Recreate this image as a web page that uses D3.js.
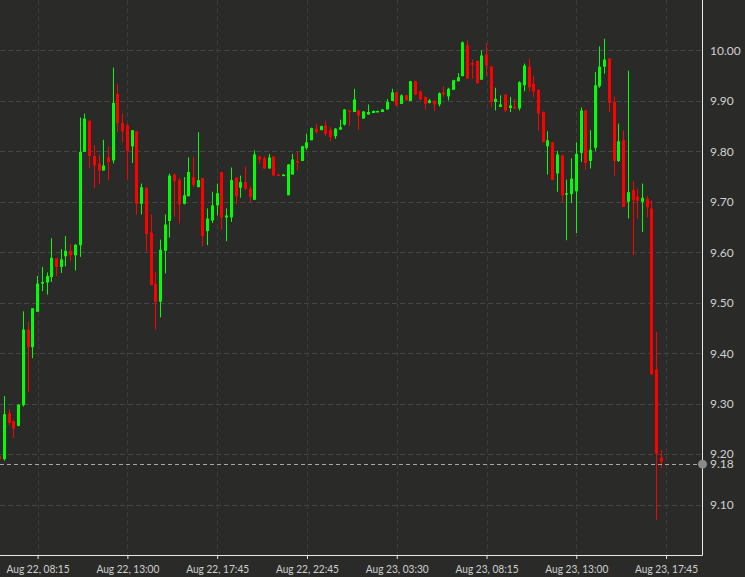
<!DOCTYPE html>
<html>
<head>
<meta charset="utf-8">
<script src="https://cdn.jsdelivr.net/npm/d3@7"></script>
<style>
  html, body { margin: 0; padding: 0; background: #2a2b29; }
  svg { display: block; }
  text { font-family: Lato, "Noto Sans", sans-serif; }
</style>
</head>
<body>
<svg id="chart" width="745" height="577"></svg>
<script>
// ---- data ----
const opens  = [9.196,9.190,9.281,9.265,9.256,9.297,9.447,9.412,9.482,9.538,9.540,9.551,9.588,9.571,9.592,9.603,9.594,9.614,9.799,9.861,
                9.791,9.776,9.762,9.788,9.782,9.914,9.856,9.851,9.810,9.840,9.696,9.728,9.639,9.537,9.502,9.603,9.662,9.754,9.743,9.696,
                9.711,9.749,9.729,9.747,9.642,9.663,9.693,9.759,9.669,9.669,9.748,9.728,9.739,9.726,9.704,9.790,9.786,9.766,9.790,9.754,
                9.752,9.713,9.754,9.781,9.781,9.807,9.822,9.845,9.842,9.851,9.842,9.830,9.843,9.853,9.881,9.878,9.881,9.865,9.873,9.876,
                9.878,9.878,9.883,9.900,9.917,9.894,9.911,9.900,9.939,9.919,9.908,9.896,9.900,9.893,9.917,9.909,9.922,9.939,9.949,10.010,
                9.975,9.979,9.942,9.992,9.968,9.898,9.888,9.912,9.886,9.888,9.885,9.931,9.968,9.934,9.922,9.878,9.810,9.818,9.756,9.792,
                9.715,9.715,9.721,9.797,9.881,9.781,9.807,9.929,9.968,9.984,9.898,9.781,9.822,9.700,9.723,9.710,9.700,9.706,9.687,9.368,
                9.193];
const highs  = [9.198,9.315,9.289,9.267,9.299,9.483,9.463,9.489,9.553,9.571,9.560,9.628,9.588,9.606,9.632,9.617,9.616,9.867,9.875,9.861,
                9.812,9.794,9.823,9.810,9.966,9.933,9.875,9.855,9.842,9.840,9.736,9.728,9.675,9.561,9.625,9.675,9.756,9.756,9.747,9.749,
                9.788,9.789,9.838,9.747,9.687,9.720,9.736,9.759,9.687,9.768,9.748,9.752,9.770,9.731,9.802,9.790,9.790,9.795,9.790,9.755,
                9.755,9.775,9.795,9.799,9.811,9.835,9.847,9.855,9.851,9.861,9.848,9.846,9.863,9.884,9.882,9.924,9.882,9.880,9.893,9.881,
                9.881,9.884,9.904,9.924,9.918,9.913,9.912,9.940,9.940,9.920,9.909,9.904,9.902,9.917,9.929,9.926,9.942,9.955,10.018,10.020,
                9.982,9.980,10.000,10.014,9.969,9.926,9.911,9.914,9.908,9.904,9.939,9.974,9.984,9.949,9.923,9.879,9.840,9.819,9.801,9.793,
                9.744,9.786,9.818,9.887,9.882,9.842,9.957,10.008,10.023,9.985,9.909,9.855,9.842,9.960,9.741,9.726,9.736,9.711,9.703,9.442,
                9.208];
const lows   = [9.188,9.187,9.257,9.232,9.255,9.294,9.323,9.390,9.482,9.523,9.516,9.541,9.553,9.559,9.572,9.583,9.564,9.591,9.799,9.767,
                9.727,9.736,9.762,9.743,9.776,9.838,9.818,9.744,9.777,9.675,9.675,9.601,9.535,9.447,9.471,9.558,9.629,9.671,9.657,9.695,
                9.711,9.729,9.729,9.612,9.614,9.658,9.673,9.645,9.622,9.660,9.695,9.708,9.723,9.700,9.704,9.776,9.766,9.766,9.752,9.751,
                9.751,9.713,9.754,9.762,9.781,9.803,9.822,9.835,9.842,9.830,9.820,9.825,9.843,9.851,9.851,9.878,9.843,9.865,9.873,9.876,
                9.878,9.878,9.883,9.900,9.889,9.894,9.900,9.900,9.911,9.901,9.883,9.895,9.880,9.889,9.908,9.901,9.922,9.939,9.949,9.944,
                9.944,9.935,9.942,9.949,9.887,9.881,9.888,9.878,9.878,9.885,9.881,9.919,9.919,9.908,9.840,9.818,9.754,9.743,9.720,9.700,
                9.624,9.698,9.638,9.779,9.764,9.766,9.801,9.926,9.954,9.878,9.752,9.779,9.690,9.667,9.594,9.667,9.640,9.669,9.358,9.069,
                9.172];
const closes = [9.190,9.279,9.262,9.251,9.298,9.447,9.412,9.489,9.538,9.541,9.553,9.589,9.571,9.586,9.603,9.594,9.615,9.799,9.865,9.791,
                9.772,9.762,9.772,9.779,9.896,9.856,9.840,9.801,9.842,9.696,9.729,9.636,9.535,9.502,9.605,9.655,9.752,9.741,9.695,9.713,
                9.759,9.734,9.743,9.632,9.667,9.693,9.717,9.669,9.673,9.743,9.711,9.739,9.726,9.710,9.794,9.784,9.766,9.788,9.752,9.752,
                9.754,9.774,9.784,9.778,9.810,9.818,9.846,9.838,9.850,9.835,9.828,9.845,9.848,9.883,9.878,9.903,9.871,9.879,9.878,9.880,
                9.880,9.883,9.898,9.917,9.891,9.911,9.901,9.939,9.913,9.903,9.894,9.901,9.893,9.915,9.913,9.924,9.941,9.947,10.016,9.944,
                9.972,9.935,9.990,9.970,9.898,9.904,9.893,9.881,9.891,9.886,9.937,9.970,9.927,9.919,9.875,9.818,9.822,9.743,9.794,9.713,
                9.717,9.746,9.795,9.881,9.777,9.803,9.931,9.968,9.982,9.896,9.781,9.820,9.690,9.719,9.703,9.702,9.708,9.689,9.358,9.201,
                9.185];
const lastPrice = 9.18;
const priceTicks = [9.10,9.20,9.30,9.40,9.50,9.60,9.70,9.80,9.90,10.00];
const timeTickIndex = [8,27,46,65,84,103,122,141];
const timeTickLabels = ["Aug 22, 08:15","Aug 22, 13:00","Aug 22, 17:45","Aug 22, 22:45",
                        "Aug 23, 03:30","Aug 23, 08:15","Aug 23, 13:00","Aug 23, 17:45"];

// ---- layout ----
const W = 745, H = 577;
const plotRight = 702, plotBottom = 555;
const nSlots = 148.6;
const bg = "#2a2b29", up = "#00ff00", down = "#ff0000";
const gridColor = "#454545", axisColor = "#e8e8e8", textColor = "#d0d0d0";

const svg = d3.select("#chart");
svg.append("rect").attr("width", W).attr("height", H).attr("fill", bg);

const x = d3.scaleLinear().domain([0, nSlots]).range([-0.2, plotRight]);
const y = d3.scaleLinear().domain([9.0, 10.1]).range([plotBottom, 0]);

const candles = opens.map((o, i) => ({i, o, h: highs[i], l: lows[i], c: closes[i]}));

// grid
const grid = svg.append("g");
grid.selectAll("line.h").data(priceTicks).join("line")
  .attr("x1", 0).attr("x2", plotRight)
  .attr("y1", d => Math.round(y(d)) + 0.5).attr("y2", d => Math.round(y(d)) + 0.5)
  .attr("stroke", gridColor).attr("stroke-dasharray", "5,3");
grid.selectAll("line.v").data(timeTickIndex).join("line")
  .attr("x1", d => Math.round(x(d)) + 0.5).attr("x2", d => Math.round(x(d)) + 0.5)
  .attr("y1", 0).attr("y2", plotBottom)
  .attr("stroke", "#3b3c3a").attr("stroke-dasharray", "5,3");

// candles
svg.append("clipPath").attr("id", "clip").append("rect")
  .attr("x", 0).attr("y", 0).attr("width", plotRight).attr("height", plotBottom);
const cg = svg.append("g").attr("clip-path", "url(#clip)");
const cs = cg.selectAll("g.c").data(candles).join("g");
cs.append("rect")
  .attr("x", d => Math.floor(x(d.i)))
  .attr("width", 1)
  .attr("y", d => y(d.h))
  .attr("height", d => Math.max(1, y(d.l) - y(d.h)))
  .attr("fill", d => d.c >= d.o ? up : down);
cs.append("rect")
  .attr("x", d => Math.floor(x(d.i)) - 1)
  .attr("width", 3)
  .attr("y", d => y(Math.max(d.o, d.c)))
  .attr("height", d => Math.max(1.5, Math.abs(y(d.o) - y(d.c))))
  .attr("fill", d => d.c >= d.o ? up : down);

// last price line
svg.append("line")
  .attr("x1", 0).attr("x2", plotRight)
  .attr("y1", Math.round(y(lastPrice)) + 0.5).attr("y2", Math.round(y(lastPrice)) + 0.5)
  .attr("stroke", "#a8a8a8").attr("stroke-dasharray", "4,3");

// axes
const xAxis = d3.axisBottom(x).tickValues(timeTickIndex)
  .tickFormat((d, k) => timeTickLabels[k]).tickSize(4).tickSizeOuter(0);
const gx = svg.append("g").attr("transform", `translate(0,${plotBottom})`).call(xAxis);
gx.select(".domain").remove();
gx.selectAll(".tick line").attr("stroke", axisColor);
gx.selectAll(".tick text").attr("fill", textColor).attr("font-size", 12).attr("dy", "0.95em")
  .attr("font-family", "Lato, 'Noto Sans', sans-serif")
  .attr("textLength", 63).attr("lengthAdjust", "spacingAndGlyphs");
svg.append("line").attr("x1", 0).attr("x2", plotRight + 0.5)
  .attr("y1", plotBottom + 0.5).attr("y2", plotBottom + 0.5).attr("stroke", axisColor);
svg.append("line").attr("x1", plotRight + 0.5).attr("x2", plotRight + 0.5)
  .attr("y1", 0).attr("y2", plotBottom + 0.5).attr("stroke", axisColor);

const yAxis = d3.axisRight(y).tickValues(priceTicks).tickFormat(d3.format(".2f")).tickSize(0);
const gy = svg.append("g").attr("transform", `translate(${plotRight},0)`).call(yAxis);
gy.select(".domain").remove();
gy.selectAll(".tick text").attr("fill", textColor).attr("font-size", 12).attr("x", 8)
  .attr("font-family", "Lato, 'Noto Sans', sans-serif");

// last price marker
svg.append("text").attr("x", plotRight + 8).attr("y", y(lastPrice)).attr("dy", "0.32em")
  .attr("fill", textColor).attr("font-size", 12).text(d3.format(".2f")(lastPrice));
svg.append("circle").attr("cx", plotRight + 0.5).attr("cy", y(lastPrice)).attr("r", 4.5)
  .attr("fill", "#8a8a8a");
</script>
</body>
</html>
